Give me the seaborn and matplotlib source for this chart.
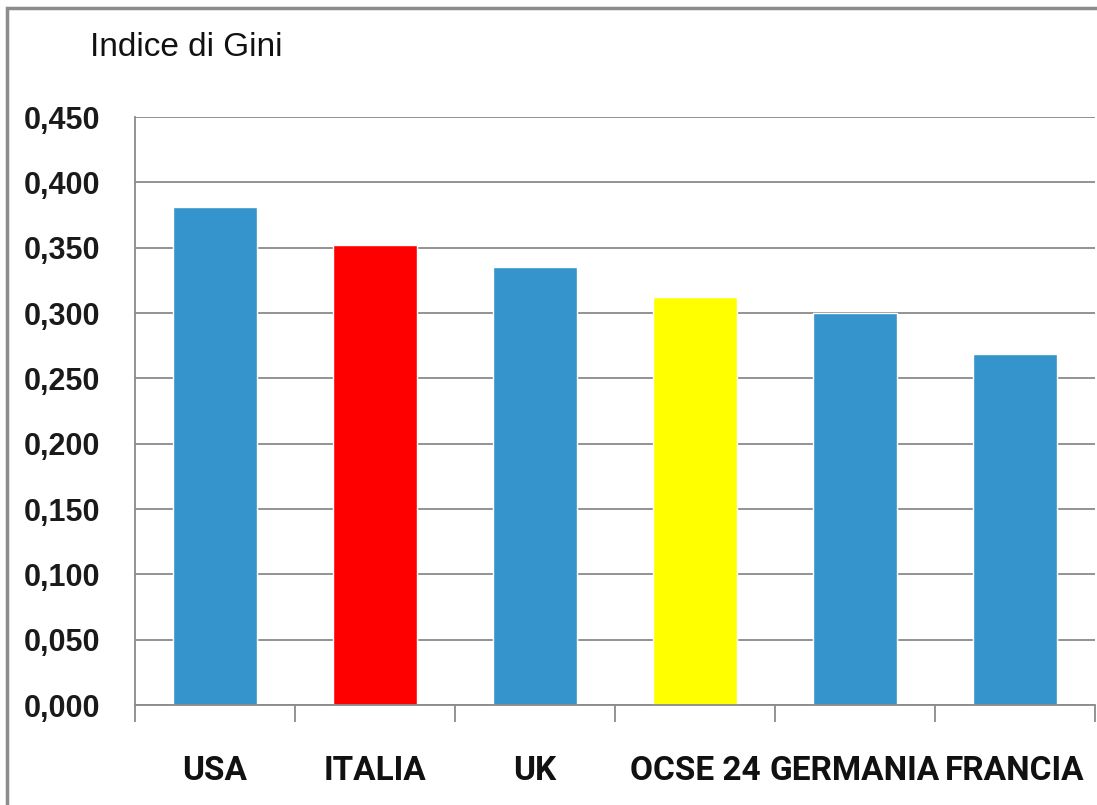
#Indice di Gini - confronto tra paesi

import pandas as pd
import matplotlib.pyplot as plt
import matplotlib.patches as mpatches
import seaborn as sb

#dati
paesi = ["USA", "ITALIA", "UK", "OCSE 24", "GERMANIA", "FRANCIA"]
gini = [0.381, 0.352, 0.335, 0.312, 0.300, 0.269]
colori = ["#3594cb", "#ff0000", "#3594cb", "#ffff00", "#3594cb", "#3594cb"]
yticks = [0.0, 0.05, 0.10, 0.15, 0.20, 0.25, 0.30, 0.35, 0.40, 0.45]

df = pd.DataFrame({"paese": paesi, "gini": gini})

sb.set_style("white")
plt.rcParams['font.family'] = ['Liberation Sans', 'DejaVu Sans']

fig = plt.figure(figsize=(10.97, 8.05), dpi=100)
ax = fig.add_axes([135/1097, 1 - 705/805, 960/1097, 588/805])

sb.barplot(data=df, x="paese", y="gini", hue="paese", palette=colori,
           legend=False, width=0.525, saturation=1, ax=ax)

#griglia orizzontale
ax.set_ylim(0, 0.45)
ax.set_yticks(yticks)
ax.set_yticklabels([f"{v:.3f}".replace(".", ",") for v in yticks],
                   fontsize=22, fontweight="bold", color="#1a1a1a")
ax.yaxis.grid(True, color="#8a8a8a", linewidth=1.3)
ax.set_axisbelow(True)
ax.tick_params(axis="y", length=9, width=1.3, color="#8a8a8a", pad=16)

#etichette paesi e tacche tra le categorie
ax.set_xlim(-0.5, len(paesi) - 0.5)
ax.set_xticks(range(len(paesi)))
ax.set_xticklabels(paesi, fontsize=24, fontweight="bold",
                   family=['Roboto', 'DejaVu Sans'], color="#111111")
ax.set_xticks([i - 0.5 for i in range(len(paesi) + 1)], minor=True)
ax.tick_params(axis="x", which="major", length=0, pad=36)
ax.tick_params(axis="x", which="minor", length=12, width=1.3,
               color="#8a8a8a", bottom=True, direction="out")
ax.set_xlabel("")
ax.set_ylabel("")

sb.despine(ax=ax, top=True, right=True)
for s in ["left", "bottom"]:
    ax.spines[s].set_color("#8a8a8a")
    ax.spines[s].set_linewidth(1.3)

fig.text(90/1097, 1 - 48/805, "Indice di Gini", fontsize=24,
         va="center", ha="left", color="#111111")

#cornice esterna
fig.patches.append(mpatches.Rectangle((7/1097, -0.05), 1.1, 1 - 8/805 + 0.05,
                                      transform=fig.transFigure, fill=False,
                                      edgecolor="#8c8c8c", linewidth=2.5))

fig.savefig("out.png", dpi=100)
